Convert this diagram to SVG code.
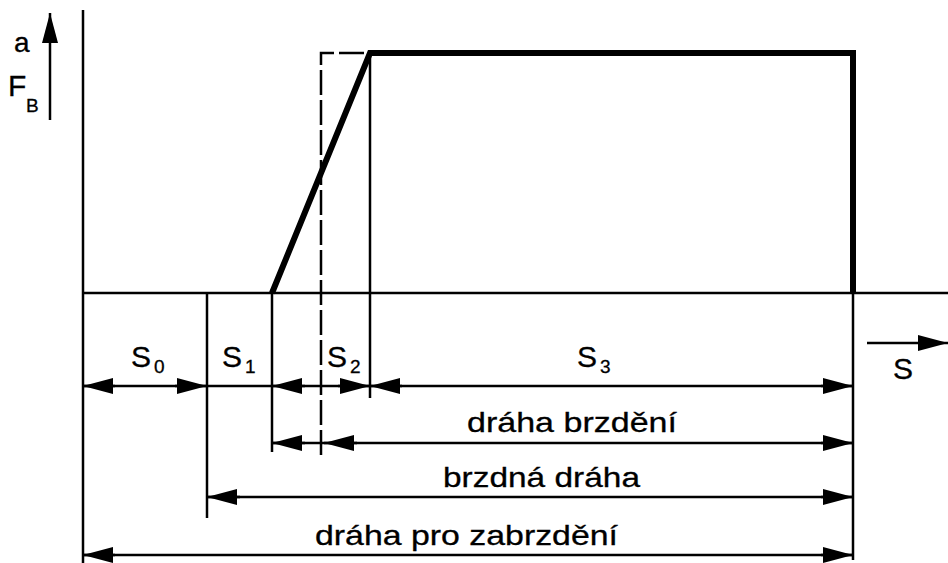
<svg xmlns="http://www.w3.org/2000/svg" width="948" height="563" viewBox="0 0 948 563">
<defs>
<style>
.thin{stroke:#000;stroke-width:2.5;fill:none}
.thick{stroke:#000;stroke-width:6;fill:none;stroke-linejoin:miter}
.dash{stroke:#000;stroke-width:2.5;fill:none;stroke-dasharray:25 5}
.ah{fill:#000}
text{font-family:"Liberation Sans",Arial,sans-serif;fill:#000;stroke:#000;stroke-width:0.3}
.lab{font-size:28px}
.s{font-size:30px}
.sub{font-size:19px}
</style>
<marker id="arr" viewBox="0 0 30 16" refX="30" refY="8" markerWidth="30" markerHeight="16" markerUnits="userSpaceOnUse" orient="auto-start-reverse">
<path d="M0,0 L30,8 L0,16 z" class="ah"/>
</marker>
</defs>
<g id="axes">
<line class="thin" x1="83" y1="10" x2="83" y2="563"/>
<line class="thin" x1="83" y1="293" x2="948" y2="293"/>
<line class="thin" x1="50" y1="120" x2="50" y2="13" marker-end="url(#arr)"/>
<line class="thin" x1="867" y1="343" x2="948" y2="343" marker-end="url(#arr)"/>
</g>
<g id="curve">
<polyline class="thick" points="272,293 370,53 853,53 853,293"/>
<polyline class="dash" points="321,455 321,53 370,53"/>
</g>
<g id="extension-lines">
<line class="thin" x1="207" y1="293" x2="207" y2="518"/>
<line class="thin" x1="272" y1="293" x2="272" y2="452"/>
<line class="thin" x1="370" y1="53" x2="370" y2="398"/>
<line class="thin" x1="853" y1="290" x2="853" y2="560"/>
</g>
<g id="connectors">
<line class="thin" x1="83" y1="386" x2="853" y2="386"/>
<line class="thin" x1="115" y1="386" x2="83" y2="386" marker-end="url(#arr)"/>
<line class="thin" x1="175" y1="386" x2="207" y2="386" marker-end="url(#arr)"/>
<line class="thin" x1="305" y1="386" x2="272" y2="386" marker-end="url(#arr)"/>
<line class="thin" x1="338" y1="386" x2="370" y2="386" marker-end="url(#arr)"/>
<line class="thin" x1="402" y1="386" x2="370" y2="386" marker-end="url(#arr)"/>
<line class="thin" x1="821" y1="386" x2="853" y2="386" marker-end="url(#arr)"/>

<line class="thin" x1="272" y1="443" x2="853" y2="443"/>
<line class="thin" x1="305" y1="443" x2="272" y2="443" marker-end="url(#arr)"/>
<line class="thin" x1="357" y1="443" x2="324" y2="443" marker-end="url(#arr)"/>
<line class="thin" x1="821" y1="443" x2="853" y2="443" marker-end="url(#arr)"/>

<line class="thin" x1="207" y1="497" x2="853" y2="497"/>
<line class="thin" x1="240" y1="497" x2="207" y2="497" marker-end="url(#arr)"/>
<line class="thin" x1="821" y1="497" x2="853" y2="497" marker-end="url(#arr)"/>

<line class="thin" x1="83" y1="555" x2="853" y2="555"/>
<line class="thin" x1="115" y1="555" x2="83" y2="555" marker-end="url(#arr)"/>
<line class="thin" x1="821" y1="555" x2="853" y2="555" marker-end="url(#arr)"/>
</g>
<g id="labels">
<text x="14" y="52" font-size="28">a</text>
<text class="s" x="8" y="96">F</text><text class="sub" x="26" y="112" font-size="16">B</text>
<text class="s" x="131" y="367">S</text><text class="sub" x="154" y="373">0</text>
<text class="s" x="222" y="367">S</text><text class="sub" x="245" y="373">1</text>
<text class="s" x="327" y="367">S</text><text class="sub" x="350" y="373">2</text>
<text class="s" x="577" y="367">S</text><text class="sub" x="600" y="373">3</text>
<text class="s" x="893" y="379">S</text>
<text class="lab" x="467" y="432" textLength="210" lengthAdjust="spacingAndGlyphs">dráha brzdění</text>
<text class="lab" x="443" y="487" textLength="197" lengthAdjust="spacingAndGlyphs">brzdná dráha</text>
<text class="lab" x="315" y="545" textLength="303" lengthAdjust="spacingAndGlyphs">dráha pro zabrzdění</text>
</g>
</svg>
